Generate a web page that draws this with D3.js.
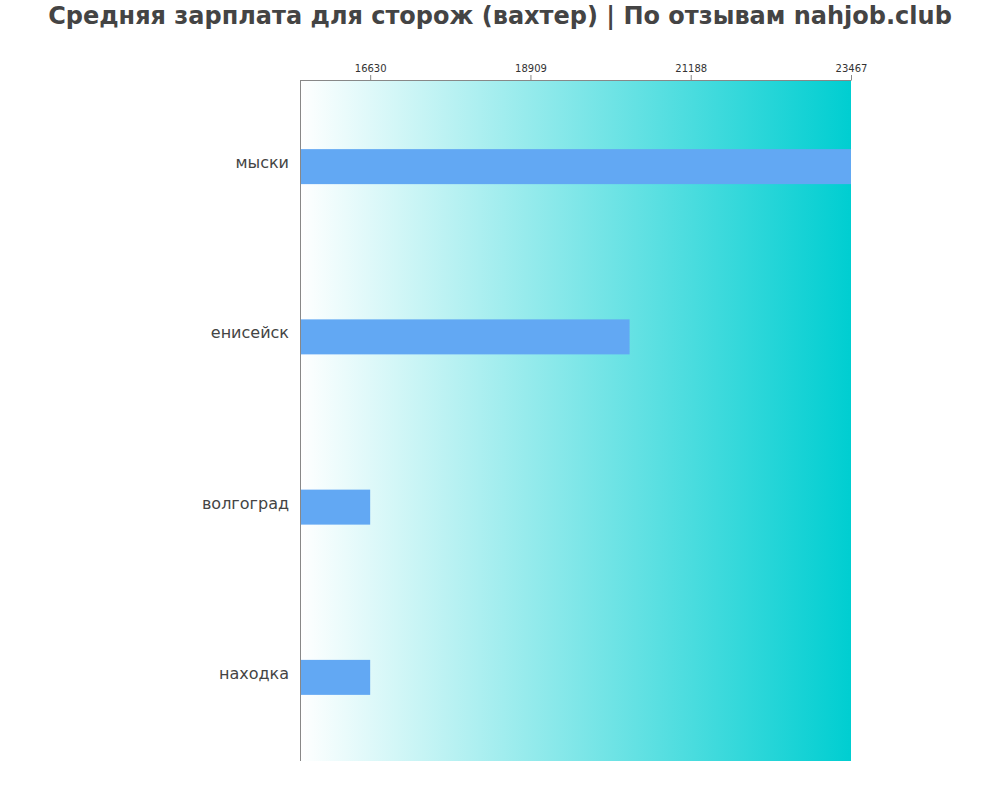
<!DOCTYPE html>
<html><head><meta charset="utf-8">
<script src="https://cdn.jsdelivr.net/npm/d3@7"></script>
<style>body{margin:0;background:#fff;font-family:"DejaVu Sans",sans-serif;}</style>
</head><body>
<svg id="c" width="1000" height="800"></svg>
<script>
const title = "Средняя зарплата для сторож (вахтер) | По отзывам nahjob.club";
const categories = ["мыски", "енисейск", "волгоград", "находка"];
const values = [23467, 20319, 16630, 16630];
const tickValues = [16630, 18909, 21188, 23467];

(function () {
const svg = d3.select("#c");
const pl = 300, pr = 851, pt = 80, pb = 761;
const minV = d3.min(values), maxV = d3.max(values);
const x = d3.scaleLinear().domain([minV * 0.94, maxV]).range([pl, pr]);
const y = d3.scaleBand().domain(categories).range([pt, pb]);

const defs = svg.append("defs");
const g = defs.append("linearGradient").attr("id", "bg").attr("x1", "0%").attr("x2", "100%").attr("y1", "0%").attr("y2", "0%");
g.append("stop").attr("offset", "0%").attr("stop-color", "#ffffff");
g.append("stop").attr("offset", "100%").attr("stop-color", "#00ced1");

svg.append("rect").attr("x", pl).attr("y", pt).attr("width", pr - pl).attr("height", pb - pt).attr("fill", "url(#bg)");

svg.append("text").attr("x", 500).attr("y", 24).attr("text-anchor", "middle")
  .attr("font-size", 24).attr("font-weight", "bold").attr("fill", "#444").text(title);

const barH = 35;
svg.selectAll(".bar").data(categories).enter().append("rect")
  .attr("x", pl)
  .attr("y", (d) => y(d) + y.bandwidth() / 2 - barH / 2 + 1.5)
  .attr("width", (d, i) => x(values[i]) - pl)
  .attr("height", barH)
  .attr("fill", "#62a8f3");

svg.selectAll(".lab").data(categories).enter().append("text")
  .attr("x", 289).attr("y", (d) => y(d) + y.bandwidth() / 2 + 3)
  .attr("text-anchor", "end").attr("font-size", 16).attr("fill", "#444").text((d) => d);

const ax = svg.append("g").attr("transform", `translate(0,${pt})`)
  .call(d3.axisTop(x).tickValues(tickValues).tickSize(5).tickSizeOuter(0).tickFormat(d3.format("d")));
ax.select(".domain").attr("stroke", "#888");
ax.selectAll(".tick line").attr("stroke", "#888");
ax.selectAll(".tick text").attr("font-size", 10).attr("fill", "#333").attr("font-family", "DejaVu Sans");

svg.append("line").attr("x1", pl + 0.5).attr("x2", pl + 0.5).attr("y1", pt).attr("y2", pb).attr("stroke", "#888");
})();
</script>
</body></html>
